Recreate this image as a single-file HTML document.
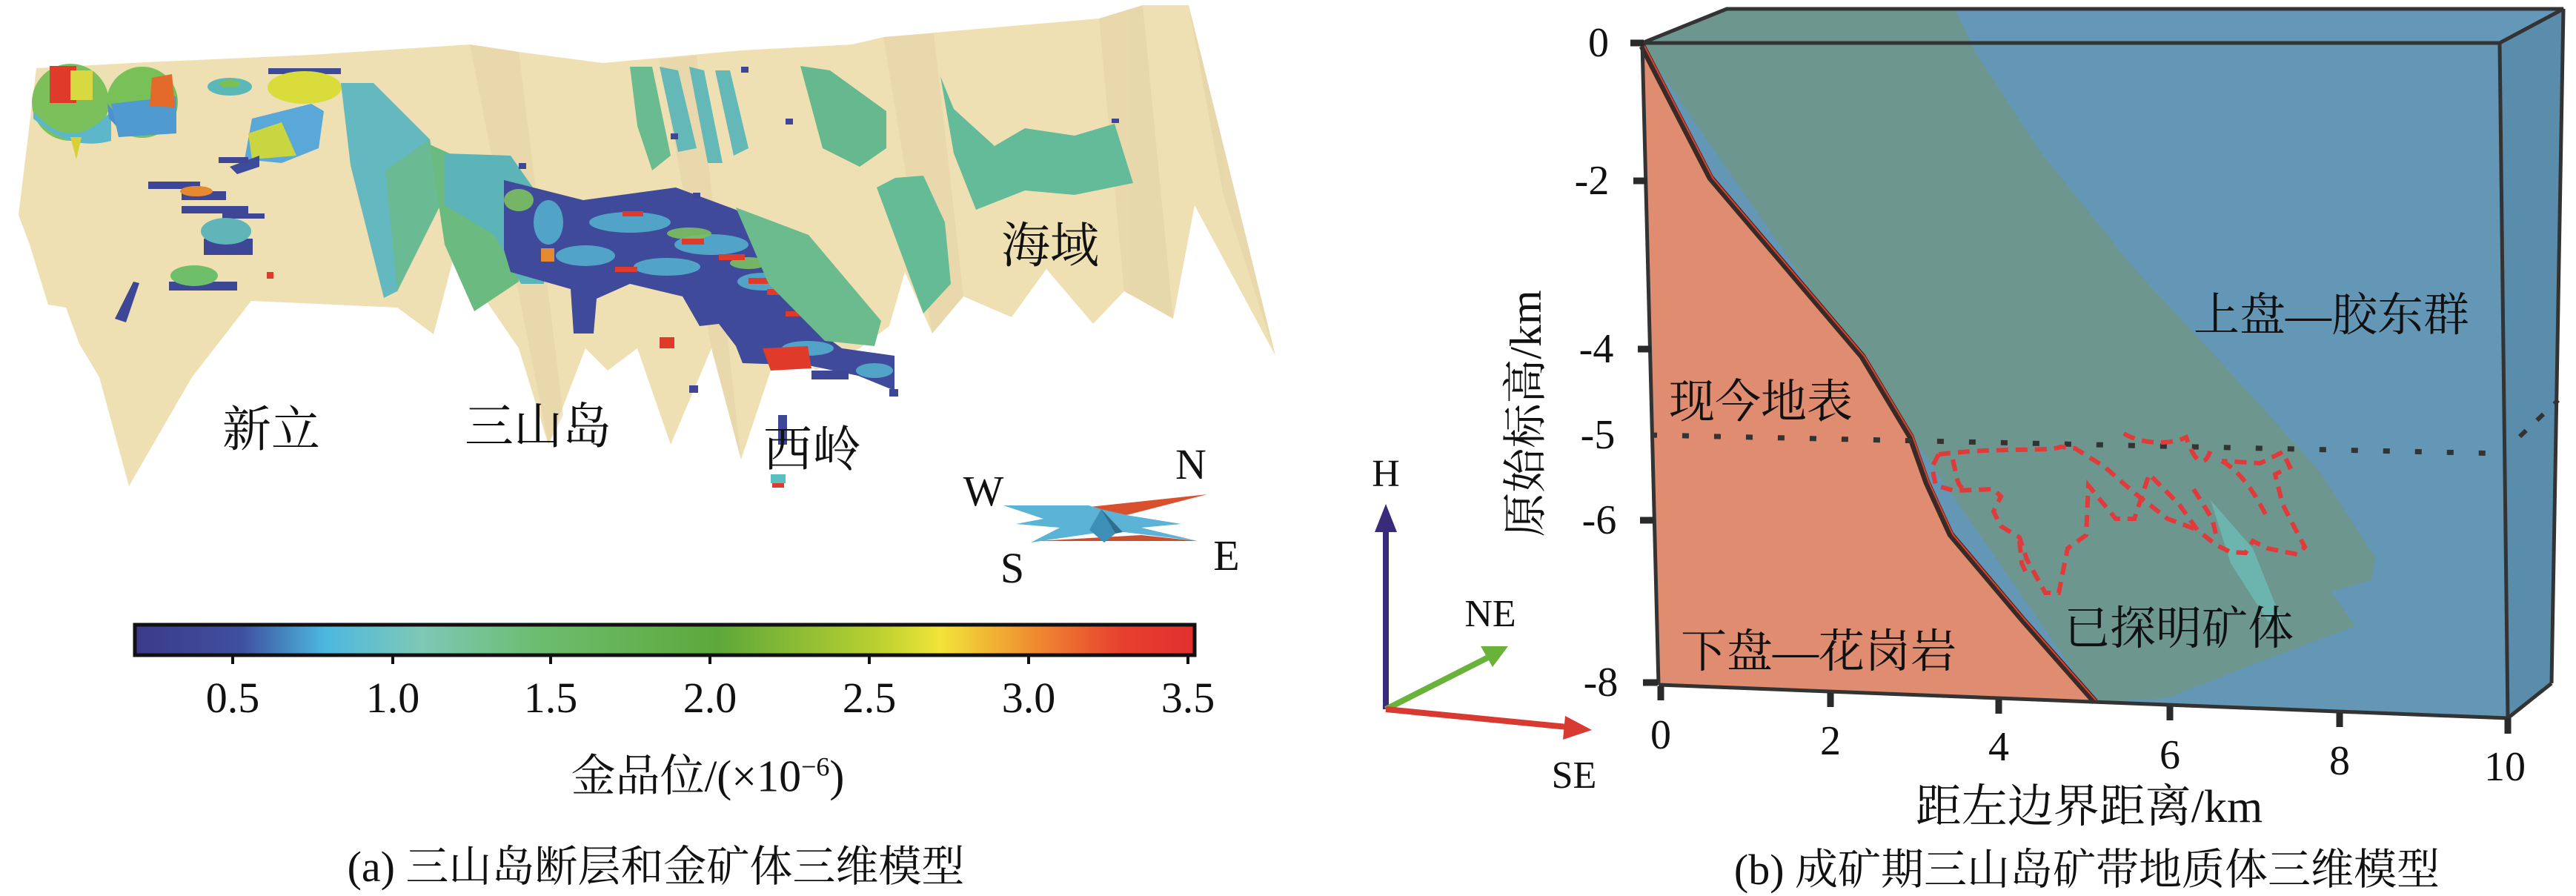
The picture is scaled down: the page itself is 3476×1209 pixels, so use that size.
<!DOCTYPE html>
<html><head><meta charset="utf-8"><style>
html,body{margin:0;padding:0;background:#fff}
body{width:3476px;height:1209px;overflow:hidden;position:relative;font-family:"Liberation Serif","Noto Serif CJK SC",serif}
.t{position:absolute;white-space:nowrap;color:#111;line-height:1;transform:translate(-50%,-50%)}
</style></head><body>
<svg width="3476" height="1209" style="position:absolute;left:0;top:0">
<!-- Left fault surface -->
<polygon fill="#efe0b4" points="49,92 197,84 420,74 634,60 700,70 813,85 1000,68 1150,60 1192,50 1483,25 1542,7 1604,7 1721,480 1612,277 1583,430 1517,393 1475,437 1412,363 1365,428 1300,400 1258,450 1221,367 1200,440 1160,470 1100,500 1060,440 1000,620 960,470 905,600 860,470 820,500 790,470 740,600 700,470 656,406 612,348 585,451 536,415 339,406 259,509 174,656 134,509 107,464 89,415 65,411 40,330 25,290"/>
<g fill="#e2d2a6" opacity="0.55">
<polygon points="634,60 700,70 760,560 740,600"/>
<polygon points="1192,50 1260,45 1300,400 1258,450"/>
<polygon points="1483,25 1542,7 1583,430 1517,393"/>
<polygon points="1604,7 1721,480 1650,260"/>
<polygon points="890,80 940,75 1000,620 960,470"/>
</g>
<!-- left ore blobs -->
<circle cx="95" cy="138" r="52" fill="#7cc05c"/>
<path d="M45,150 Q95,210 150,150 L150,190 Q95,205 45,160Z" fill="#5bb7c9"/>
<rect x="67" y="89" width="36" height="50" fill="#e03a2a"/>
<rect x="95" y="95" width="30" height="40" fill="#d8d840"/>
<circle cx="192" cy="138" r="48" fill="#78c058"/>
<path d="M145,140 Q192,200 238,140 L238,160 Q192,205 147,160Z" fill="#4f8fcf"/>
<polygon points="150,140 238,130 238,180 160,185" fill="#4f9ad0"/>
<polygon points="205,105 232,100 236,145 202,143" fill="#e36a2a"/>
<polygon points="95,185 110,185 103,215" fill="#d8d035"/>
<ellipse cx="310" cy="117" rx="30" ry="12" fill="#5bb8b8"/>
<ellipse cx="310" cy="113" rx="14" ry="5" fill="#7cc050"/>
<rect x="362" y="92" width="98" height="8" fill="#3e4a9a"/>
<ellipse cx="411" cy="118" rx="50" ry="22" fill="#d9dc3a"/>
<polygon points="340,160 420,140 437,150 430,200 380,220 330,215" fill="#5aa8d8"/>
<polygon points="335,180 380,165 400,210 340,215" fill="#c9d640"/>
<polygon points="310,225 350,210 350,225 320,235" fill="#3e4a9a"/>
<g fill="#3e4796">
<rect x="200" y="245" width="70" height="10"/><rect x="245" y="258" width="60" height="12"/><rect x="245" y="278" width="90" height="10"/><rect x="300" y="288" width="57" height="7"/>
<rect x="275" y="322" width="66" height="22"/><rect x="228" y="380" width="92" height="12"/>
<polygon points="180,380 188,382 170,435 155,430"/>
<rect x="295" y="212" width="40" height="8"/>
</g>
<ellipse cx="265" cy="258" rx="22" ry="7" fill="#e58a30"/>
<ellipse cx="305" cy="312" rx="34" ry="18" fill="#5fb5b8"/>
<ellipse cx="262" cy="372" rx="32" ry="14" fill="#6fbf6a"/>
<rect x="360" y="367" width="9" height="9" fill="#e03a2a"/>
<!-- teal triangle strip -->
<polygon fill="#64b8bf" points="460,112 504,112 580,188 594,277 536,393 518,402 473,223"/>
<polygon fill="#6bba88" opacity="0.8" points="520,230 580,188 594,277 536,393"/>
<polygon fill="#6bbb80" points="580,195 680,240 700,380 640,420 600,330"/>
<!-- main ore body -->
<polygon fill="#5cb3b8" points="600,207 689,210 747,293 734,383 703,383 667,317 600,277"/>
<polygon fill="#3f4a9a" points="680,243 787,270 912,253 993,283 1046,317 1069,383 1095,440 1136,470 1207,480 1207,527 1158,507 1091,493 1002,490 993,467 970,437 944,440 921,400 850,383 805,403 801,450 774,450 770,390 689,367 680,337"/>
<g fill="#55b3cf" opacity="0.85">
<ellipse cx="850" cy="300" rx="55" ry="14"/><ellipse cx="960" cy="330" rx="50" ry="14"/><ellipse cx="790" cy="345" rx="40" ry="14"/><ellipse cx="900" cy="360" rx="45" ry="12"/><ellipse cx="1030" cy="380" rx="35" ry="12"/><ellipse cx="1090" cy="470" rx="35" ry="10"/><ellipse cx="1180" cy="500" rx="25" ry="10"/><ellipse cx="740" cy="300" rx="20" ry="30"/>
</g>
<g fill="#7cc060" opacity="0.9"><ellipse cx="930" cy="315" rx="30" ry="8"/><ellipse cx="1010" cy="355" rx="25" ry="8"/><ellipse cx="700" cy="270" rx="20" ry="15"/></g>
<g fill="#e03a2a">
<polygon points="1029,470 1090,467 1095,497 1040,500"/>
<rect x="840" y="285" width="28" height="7"/><rect x="920" y="322" width="30" height="8"/><rect x="970" y="343" width="35" height="8"/><rect x="1010" y="375" width="28" height="8"/><rect x="1035" y="390" width="30" height="8"/><rect x="1060" y="420" width="25" height="7"/><rect x="890" y="455" width="20" height="15"/><rect x="830" y="360" width="30" height="7"/>
</g>
<rect x="730" y="335" width="18" height="18" fill="#e58a30"/>
<polygon fill="#6bbb8e" points="993,280 1091,317 1189,433 1180,467 1113,460 1037,383"/>
<g fill="#3e4796"><rect x="1095" y="500" width="50" height="12"/><rect x="1200" y="525" width="12" height="10"/><rect x="1050" y="560" width="12" height="40"/><rect x="930" y="520" width="12" height="10"/></g>
<rect x="1040" y="640" width="20" height="12" fill="#5abfbf"/><rect x="1042" y="652" width="16" height="6" fill="#e03a2a"/>
<!-- upper strips -->
<polygon fill="#6bbb90" points="850,90 880,90 905,210 880,230 860,170"/>
<polygon fill="#64b9b8" points="890,90 915,95 940,200 915,205"/>
<polygon fill="#64b9b8" points="930,90 950,95 975,220 955,220"/>
<polygon fill="#64b9b8" points="965,95 985,95 1010,200 990,210"/>
<polygon fill="#66b98e" points="1080,89 1120,95 1196,150 1196,200 1160,225 1110,200"/>
<polygon fill="#64bb9a" points="1269,103 1287,147 1342,197 1383,173 1450,183 1504,167 1529,247 1450,263 1383,257 1317,283 1287,207"/>
<polygon fill="#64bb96" points="1208,240 1246,237 1275,300 1283,383 1246,423 1183,253"/>
<g fill="#3e4796"><rect x="935" y="260" width="10" height="8"/><rect x="905" y="180" width="10" height="8"/><rect x="1000" y="90" width="10" height="8"/><rect x="1060" y="160" width="10" height="8"/><rect x="700" y="220" width="10" height="8"/><rect x="1500" y="160" width="10" height="6"/></g>
<!-- compass -->
<polygon fill="#d9502e" points="1470,684 1629,667 1520,695"/>
<polygon fill="#c9502e" points="1400,730 1616,730 1540,722"/>
<polygon fill="#5bb3d6" points="1354,682 1469,682 1486,687 1520,695 1594,707 1540,712 1616,730 1500,716 1391,732 1430,712 1371,707 1408,700"/>
<polygon fill="#3e8fb8" points="1486,687 1470,715 1490,732 1505,720"/>
<polygon fill="#2f6e8f" points="1486,687 1505,720 1515,718"/>
<!-- colorbar -->
<defs>
<linearGradient id="cb" x1="0" x2="1">
<stop offset="0" stop-color="#3b3a8a"/><stop offset="0.1" stop-color="#3f4f9e"/><stop offset="0.18" stop-color="#4db8e0"/><stop offset="0.27" stop-color="#7ec8b6"/><stop offset="0.38" stop-color="#6cbd70"/><stop offset="0.55" stop-color="#5ea83a"/><stop offset="0.7" stop-color="#b9d030"/><stop offset="0.76" stop-color="#f2e43a"/><stop offset="0.85" stop-color="#f08a30"/><stop offset="0.93" stop-color="#e7402f"/><stop offset="1" stop-color="#e0302f"/>
</linearGradient>
</defs>
<rect x="182" y="843" width="1430" height="41" fill="url(#cb)" stroke="#111" stroke-width="5"/>
<g stroke="#111" stroke-width="4"><line x1="314" y1="884" x2="314" y2="896"/><line x1="530" y1="884" x2="530" y2="896"/><line x1="743" y1="884" x2="743" y2="896"/><line x1="958" y1="884" x2="958" y2="896"/><line x1="1173" y1="884" x2="1173" y2="896"/><line x1="1388" y1="884" x2="1388" y2="896"/><line x1="1603" y1="884" x2="1603" y2="896"/></g>

<!-- Right panel box -->
<polygon fill="#6598b8" points="2216,58 2330,12 3459,12 3373,58"/>
<polygon fill="#5a8cac" points="3373,58 3459,12 3443,922 3384,969"/>
<polygon fill="#6397b5" points="2216,58 3373,58 3384,969 2238,924"/>
<polygon fill="#6d968f" points="2330,12 2638,12 2665,70 2751,202 2881,364 3011,504 3130,636 3205,752 3200,783 3146,798 3178,845 3054,891 2924,942 2827,947 2216,62"/>
<polygon fill="#df8c70" points="2216,62 2308,240 2513,481 2578,589 2600,651 2632,721 2730,837 2827,947 2238,924"/>
<polyline fill="none" stroke="#3a2a26" stroke-width="9" points="2216,62 2308,240 2513,481 2578,589 2600,651 2632,721 2730,837 2827,947"/>
<polyline fill="none" stroke="#e0402f" stroke-width="2" points="2219,62 2311,240 2516,481 2581,589 2603,651 2635,721 2733,837 2830,947"/>
<polygon fill="#6cc0bb" opacity="0.7" points="2983,675 3040,740 3080,840 3060,838 3010,760"/>
<g fill="none" stroke="#333" stroke-width="5">
<polyline points="2216,58 2330,12 3459,12 3373,58 2216,58"/>
<line x1="3373" y1="58" x2="3384" y2="969"/><line x1="3459" y1="12" x2="3443" y2="922"/><line x1="3443" y1="922" x2="3384" y2="969"/>
<line x1="2216" y1="58" x2="2238" y2="924"/><line x1="2238" y1="924" x2="3384" y2="969"/>
</g>
<g stroke="#2a2a2a" stroke-width="9">
<line x1="2200" y1="58" x2="2218" y2="58"/><line x1="2204" y1="244" x2="2222" y2="244"/><line x1="2210" y1="471" x2="2228" y2="471"/><line x1="2213" y1="702" x2="2231" y2="702"/><line x1="2217" y1="921" x2="2237" y2="921"/>
<line x1="2241" y1="926" x2="2241" y2="945"/><line x1="2470" y1="935" x2="2470" y2="954"/><line x1="2697" y1="944" x2="2697" y2="963"/><line x1="2928" y1="953" x2="2928" y2="972"/><line x1="3157" y1="962" x2="3157" y2="981"/><line x1="3384" y1="969" x2="3384" y2="990"/>
</g>
<line x1="2227" y1="587" x2="3378" y2="612" stroke="#333" stroke-width="7" stroke-dasharray="9,34"/>
<line x1="3400" y1="589" x2="3452" y2="540" stroke="#333" stroke-width="6" stroke-dasharray="12,20"/>
<g fill="none" stroke="#e03a3a" stroke-width="6" stroke-dasharray="16,10">
<path d="M2616,613 C2700,603 2760,610 2781,603 L2800,605 2840,630 2880,665 2925,700 2965,715 M2616,613 L2607,630 2612,655 2636,662 L2690,660 2700,670 2690,690 2700,710 2725,725 2735,755 2760,800 L2778,800 2790,740 2815,722 2818,655 2855,700 2880,700 2900,640 2940,680 2965,715 2990,735 3010,745 3030,746 3040,730 3060,740 3100,748 3110,738 3090,700 3080,680 3070,640 3090,630 3080,610 3060,620 3050,625 2998,622"/>
<path d="M2866,585 C2890,600 2930,600 2950,590 2960,620 2975,640 2985,600 2965,588 2940,592"/>
<path d="M2635,620 C2640,640 2640,655 2650,660 M2725,730 2728,760 2735,775"/>
<path d="M2998,622 C3030,640 3050,680 3060,700 M2960,660 2985,700 2990,720"/>
</g>
<!-- direction arrows -->
<line x1="1870" y1="957" x2="1870" y2="700" stroke="#3a2a7a" stroke-width="8"/>
<polygon fill="#3a2a7a" points="1870,680 1855,718 1885,718"/>
<line x1="1870" y1="957" x2="2018" y2="882" stroke="#6ab33a" stroke-width="8"/>
<polygon fill="#6ab33a" points="2035,872 1998,872 2014,900"/>
<line x1="1870" y1="957" x2="2125" y2="982" stroke="#d83a32" stroke-width="8"/>
<polygon fill="#d83a32" points="2148,985 2112,966 2109,998"/>
</svg>

<div class="t" style="left:366px;top:581px;font-size:66px">新立</div>
<div class="t" style="left:726px;top:577px;font-size:66px">三山岛</div>
<div class="t" style="left:1096px;top:608px;font-size:66px">西岭</div>
<div class="t" style="left:1417px;top:333px;font-size:66px">海域</div>
<div class="t" style="left:1327px;top:663px;font-size:58px">W</div>
<div class="t" style="left:1607px;top:627px;font-size:58px">N</div>
<div class="t" style="left:1366px;top:767px;font-size:58px">S</div>
<div class="t" style="left:1655px;top:750px;font-size:58px">E</div>
<div class="t" style="left:314px;top:942px;font-size:58px">0.5</div>
<div class="t" style="left:530px;top:942px;font-size:58px">1.0</div>
<div class="t" style="left:743px;top:942px;font-size:58px">1.5</div>
<div class="t" style="left:958px;top:942px;font-size:58px">2.0</div>
<div class="t" style="left:1173px;top:942px;font-size:58px">2.5</div>
<div class="t" style="left:1388px;top:942px;font-size:58px">3.0</div>
<div class="t" style="left:1603px;top:942px;font-size:58px">3.5</div>
<div class="t" style="left:955px;top:1047px;font-size:60px">金品位/(×10<sup style="font-size:36px">−6</sup>)</div>
<div class="t" style="left:885px;top:1170px;font-size:58px">(a) 三山岛断层和金矿体三维模型</div>

<div class="t" style="left:2157px;top:58px;font-size:56px">0</div>
<div class="t" style="left:2148px;top:244px;font-size:56px">-2</div>
<div class="t" style="left:2154px;top:471px;font-size:56px">-4</div>
<div class="t" style="left:2156px;top:587px;font-size:56px">-5</div>
<div class="t" style="left:2158px;top:702px;font-size:56px">-6</div>
<div class="t" style="left:2160px;top:921px;font-size:56px">-8</div>
<div class="t" style="left:2241px;top:992px;font-size:56px">0</div>
<div class="t" style="left:2470px;top:1000px;font-size:56px">2</div>
<div class="t" style="left:2697px;top:1008px;font-size:56px">4</div>
<div class="t" style="left:2928px;top:1019px;font-size:56px">6</div>
<div class="t" style="left:3157px;top:1027px;font-size:56px">8</div>
<div class="t" style="left:3380px;top:1035px;font-size:56px">10</div>
<div class="t" style="left:2059px;top:558px;font-size:60px;transform:translate(-50%,-50%) rotate(-90deg)">原始标高/km</div>
<div class="t" style="left:2819px;top:1089px;font-size:62px">距左边界距离/km</div>
<div class="t" style="left:2816px;top:1174px;font-size:58px">(b) 成矿期三山岛矿带地质体三维模型</div>
<div class="t" style="left:3146px;top:426px;font-size:62px">上盘—胶东群</div>
<div class="t" style="left:2376px;top:543px;font-size:62px">现今地表</div>
<div class="t" style="left:2454px;top:880px;font-size:62px">下盘—花岗岩</div>
<div class="t" style="left:2940px;top:849px;font-size:62px">已探明矿体</div>
<div class="t" style="left:1870px;top:640px;font-size:52px">H</div>
<div class="t" style="left:2011px;top:829px;font-size:52px">NE</div>
<div class="t" style="left:2124px;top:1047px;font-size:52px">SE</div>
</body></html>
